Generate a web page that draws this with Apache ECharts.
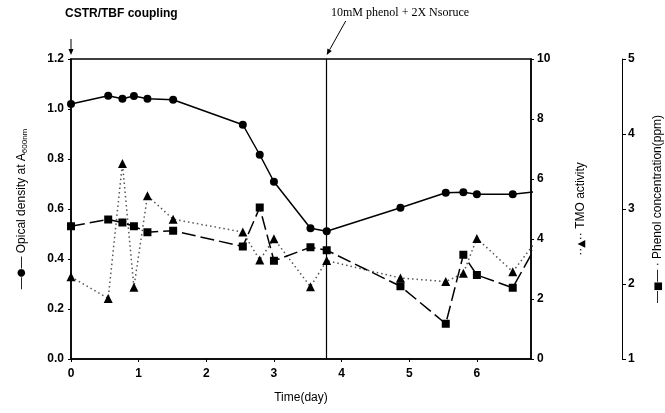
<!DOCTYPE html>
<html>
  <head>
    <meta charset="utf-8" />
    <title>OD / TMO / Phenol</title>
    <script src="https://cdn.jsdelivr.net/npm/echarts@6/dist/echarts.min.js"></script>
    <style>
      * { margin: 0; padding: 0; box-sizing: border-box; }
      body { background: #fff; }
    </style>
  </head>
  <body>
    <div id="main" style="width: 665px; height: 413px"></div>
    <script type="text/javascript">
      var myChart = echarts.init(document.getElementById("main"));

      // sampling days (last one sits just past the frame, line is clipped)
      const days = [0, 0.55, 0.76, 0.93, 1.13, 1.51, 2.54, 2.79, 3.0, 3.54, 3.78, 4.87, 5.54, 5.8, 6.0, 6.53, 6.9];
      const od = [1.02, 1.053, 1.041, 1.052, 1.041, 1.037, 0.937, 0.817, 0.709, 0.523, 0.511, 0.605, 0.665, 0.667, 0.659, 0.659, 0.67];
      const tmo = [2.74, 2.02, 6.52, 2.39, 5.44, 4.66, 4.23, 3.3, 4.01, 2.41, 3.28, 2.7, 2.58, 2.86, 4.02, 2.91, 4.0];
      const phenol = [2.77, 2.86, 2.82, 2.77, 2.69, 2.71, 2.5, 3.02, 2.31, 2.49, 2.45, 1.97, 1.47, 2.39, 2.12, 1.95, 2.55];
      const feedDay = 3.78;

      const pair = (ys) => days.map((d, i) => [d, ys[i]]);
      const tickFont = { color: "#000", fontSize: 12, fontWeight: "bold", fontFamily: "Liberation Sans" };
      const blackLine = { show: true, lineStyle: { color: "#000", width: 1.5 } };
      const nameFont = { color: "#000", fontSize: 12, fontFamily: "Liberation Sans" };
      const markRich = { m: { fontSize: 10, fontFamily: "DejaVu Sans", color: "#000" } };

      var option = {
        animation: false,
        grid: {
          left: 71, right: 134, top: 59, bottom: 54,
          outerBoundsMode: "none", containLabel: false,
          show: true, borderColor: "#000", borderWidth: 1.5,
        },
        xAxis: {
          type: "value",
          min: 0,
          max: 6.8,
          interval: 1,
          name: "Time(day)",
          nameLocation: "middle",
          nameGap: 33,
          nameTextStyle: nameFont,
          axisLine: blackLine,
          axisTick: { show: true, length: 3, lineStyle: { color: "#000" } },
          axisLabel: Object.assign({ showMaxLabel: false, margin: 9 }, tickFont),
          splitLine: { show: false },
        },
        yAxis: [
          {
            type: "value",
            min: 0,
            max: 1.2,
            interval: 0.2,
            position: "left",
            name: "—{m|●}— Opical density at A{sub|600nm}",
            nameLocation: "middle",
            nameRotate: 90,
            nameGap: 42,
            nameTextStyle: Object.assign({}, nameFont, {
              rich: Object.assign({
                sub: { fontSize: 8, fontFamily: "Liberation Sans", verticalAlign: "bottom", padding: [7, 0, 0, 0] },
              }, markRich),
            }),
            axisLine: blackLine,
            axisTick: { show: true, length: 3, lineStyle: { color: "#000" } },
            axisLabel: Object.assign({ formatter: (v) => v.toFixed(1), margin: 7 }, tickFont),
            splitLine: { show: false },
          },
          {
            type: "value",
            min: 0,
            max: 10,
            interval: 2,
            position: "right",
            name: "··{m|▲}·· TMO activity",
            nameLocation: "middle",
            nameRotate: 90,
            nameGap: 44,
            nameTextStyle: Object.assign({}, nameFont, { padding: [0, 0, 14, 0], rich: markRich }),
            axisLine: blackLine,
            axisTick: { show: true, length: 3, lineStyle: { color: "#000" } },
            axisLabel: Object.assign({ margin: 6 }, tickFont),
            splitLine: { show: false },
          },
          {
            type: "value",
            min: 1,
            max: 5,
            interval: 1,
            position: "right",
            offset: 91,
            name: "—{m|■}— · Phenol concentration(ppm)",
            nameLocation: "middle",
            nameRotate: 90,
            nameGap: 30,
            nameTextStyle: Object.assign({}, nameFont, { padding: [0, 0, 34, 0], rich: markRich }),
            axisLine: { show: true, lineStyle: { color: "#000", width: 1 } },
            axisTick: { show: true, length: 4, lineStyle: { color: "#000" } },
            axisLabel: Object.assign({ margin: 6 }, tickFont),
            splitLine: { show: false },
          },
        ],
        series: [
          {
            name: "OD",
            type: "line",
            yAxisIndex: 0,
            data: pair(od),
            symbol: "circle",
            symbolSize: 8,
            itemStyle: { color: "#000" },
            lineStyle: { color: "#000", width: 1.5 },
            markLine: {
              silent: true,
              symbol: "none",
              label: { show: false },
              lineStyle: { color: "#000", width: 1.2, type: "solid" },
              data: [{ xAxis: feedDay }],
            },
          },
          {
            name: "TMO",
            type: "line",
            yAxisIndex: 1,
            data: pair(tmo),
            symbol: "triangle",
            symbolSize: 9,
            itemStyle: { color: "#000" },
            lineStyle: { color: "#555", width: 1.5, type: [1.5, 3] },
          },
          {
            name: "Phenol",
            type: "line",
            yAxisIndex: 2,
            data: pair(phenol),
            symbol: "rect",
            symbolSize: 8,
            itemStyle: { color: "#000" },
            lineStyle: { color: "#000", width: 1.5, type: [14, 5] },
          },
        ],
      };

      myChart.setOption(option);

      // annotation arrows placed from axis coordinates
      const startPx = myChart.convertToPixel({ xAxisIndex: 0, yAxisIndex: 0 }, [0, 1.2]);
      const feedPx = myChart.convertToPixel({ xAxisIndex: 0, yAxisIndex: 0 }, [feedDay, 1.2]);
      function arrow(x1, y1, x2, y2) {
        const a = Math.atan2(y2 - y1, x2 - x1);
        const s = 6, w = 2.5;
        const bx = x2 - s * Math.cos(a), by = y2 - s * Math.sin(a);
        return [
          { type: "line", shape: { x1: x1, y1: y1, x2: bx, y2: by }, style: { stroke: "#000", lineWidth: 1 } },
          {
            type: "polygon",
            shape: { points: [[x2, y2], [bx + w * Math.sin(a), by - w * Math.cos(a)], [bx - w * Math.sin(a), by + w * Math.cos(a)]] },
            style: { fill: "#000" },
          },
        ];
      }
      myChart.setOption({
        graphic: [
          { type: "text", left: 65, top: 8, style: { text: "CSTR/TBF coupling", font: "bold 12px Liberation Sans", fill: "#000" } },
          { type: "text", left: 331, top: 7, style: { text: "10mM phenol + 2X Nsoruce", font: "12px Liberation Serif", fill: "#000" } },
        ]
          .concat(arrow(startPx[0], 39, startPx[0], startPx[1] - 4))
          .concat(arrow(feedPx[0] + 19, 21, feedPx[0], startPx[1] - 4)),
      });
    </script>
  </body>
</html>
